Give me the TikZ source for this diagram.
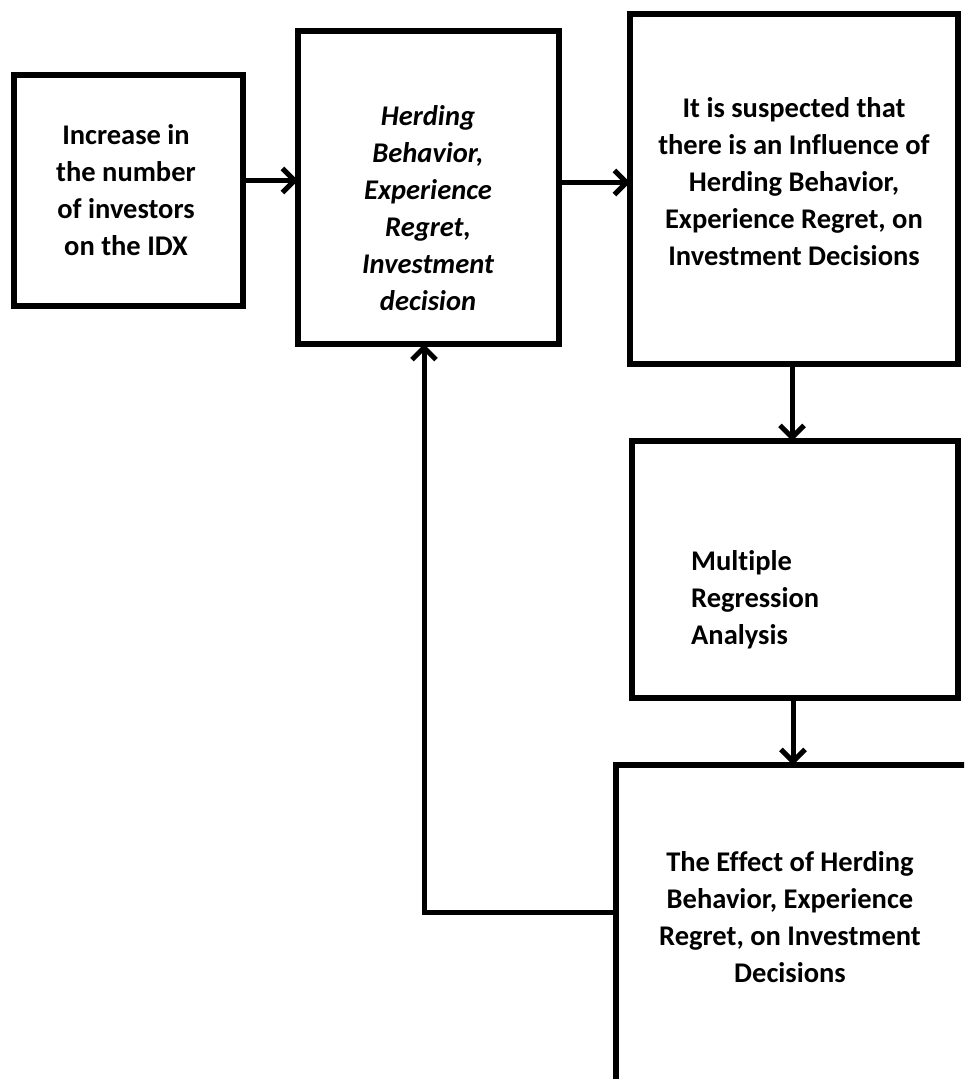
\documentclass[tikz,border=0pt]{standalone}
\usepackage{fontspec}
\setmainfont[Ligatures=NoCommon]{Carlito}
\usetikzlibrary{arrows.meta,positioning}

\begin{document}
\begin{tikzpicture}[x=1pt,y=-1pt,
    flowbox/.style={rectangle, draw=black, line width=5.5pt, fill=white, outer sep=0pt},
    boxtext/.style={align=center, inner sep=0pt, font=\fontsize{28.5}{37}\selectfont\bfseries},
    flowarrow/.style={line width=5pt, -{Straight Barb[length=12pt,width=24pt]}}
  ]
  \useasboundingbox (0,0) rectangle (964,1079);
  \clip (0,0) rectangle (964,1079);

  % boxes
  \node[flowbox, minimum width=229pt, minimum height=231pt] (incr) at (128.5,190.5) {};
  \node[flowbox, minimum width=261pt, minimum height=313pt] (herd) at (428.5,187.5) {};
  \node[flowbox, minimum width=328pt, minimum height=350pt] (susp) at (794,189) {};
  \node[flowbox, minimum width=326pt, minimum height=257pt] (mra) at (795,569.5) {};
  \node[flowbox, minimum width=359pt, minimum height=335pt] (result) at (795.5,932.5) {};

  % texts
  \node[boxtext] (incrtext) at (126,190) {Increase in\\the number\\of investors\\on the IDX};
  \node[boxtext, font=\fontsize{28.5}{37}\selectfont\bfseries\itshape] (herdtext) at (428,208) {Herding\\Behavior,\\Experience\\Regret,\\Investment\\decision};
  \node[boxtext] (susptext) at (794,182) {It is suspected that\\there is an Influence of\\Herding Behavior,\\Experience Regret, on\\Investment Decisions};
  \node[boxtext, align=left, anchor=west] (mratext) at (691,600) {Multiple\\Regression\\Analysis};
  \node[boxtext] (resulttext) at (790,917) {The Effect of Herding\\Behavior, Experience\\Regret, on Investment\\Decisions};

  % connectors
  \draw[flowarrow] ([yshift=10pt]incr.east) -- ([yshift=10pt]incr.east -| herd.west);
  \draw[flowarrow] ([yshift=5pt]herd.east) -- ([yshift=5pt]herd.east -| susp.west);
  \draw[flowarrow] ([xshift=-2pt]susp.south) -- ([xshift=-2pt]susp.south |- mra.north);
  \draw[flowarrow] ([xshift=-2pt]mra.south) -- ([xshift=-2pt]mra.south |- result.north);
  \coordinate (turn) at (424,912);
  \draw[flowarrow] (turn -| result.west) -- (turn) -- (turn |- herd.south);
\end{tikzpicture}
\end{document}
